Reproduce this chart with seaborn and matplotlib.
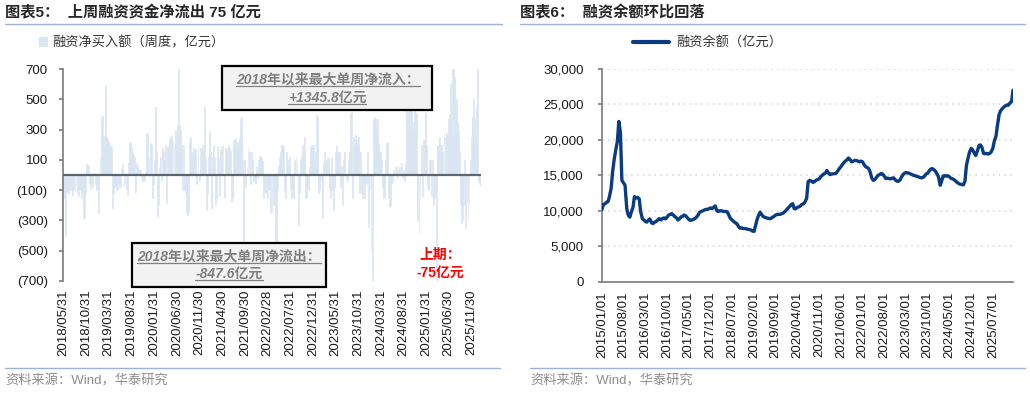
import matplotlib
matplotlib.use('Agg')
import matplotlib.pyplot as plt
import seaborn as sns
import pandas as pd
import numpy as np
from matplotlib.ticker import FuncFormatter, StrMethodFormatter
from matplotlib.lines import Line2D
from matplotlib.patches import Rectangle, Patch

# weekly net margin buying (100m yuan), first week 2018-05-31
net_buy = [
    -120, -150, -400, -110, -90, -120, -100, -80, -105, -130,
    -95, -110, -70, -120, -140, -100, -90, -150, -110, -290,
    -280, -120, 70, 75, 60, -60, -90, -50, -80, 10,
    15, -60, -100, -70, -250, 120, 380, 390, 250, 260,
    595, 250, 240, 220, 200, 190, 185, -220, -120, -80,
    -60, -100, -90, -50, -80, -70, 40, 75, -80, -60,
    -90, -130, 80, 215, 210, 180, 150, 130, 120, -110,
    80, 60, 40, 35, 30, -20, -40, -10, -40, 20,
    275, 270, 120, 210, 200, -150, -60, 100, 450, 150,
    -270, -200, 50, 120, -40, 180, 150, 100, 200, -182,
    187, 190, 230, 250, 260, 231, 200, 300, 250, 330,
    900, 330, 300, 200, -100, 200, -100, -120, -250, -264,
    -240, 220, 250, 150, 120, 180, 150, 170, -60, 200,
    -40, 180, 170, 200, 150, 450, 120, -230, -120, 120,
    290, 150, -220, 120, 200, 110, -200, -150, 190, 110,
    -140, 170, 190, 200, -150, 180, 150, 180, 200, 180,
    160, -170, -150, 230, 200, 240, 180, 220, 200, 240,
    370, 380, 100, -520, 100, -80, 50, 180, 150, -60,
    150, 100, -40, -30, -50, 60, -20, 100, 128, 120,
    110, 90, -150, -100, -120, -80, -150, -90, -100, -250,
    -250, -200, -120, -550, -480, -100, 60, 120, 150, 200,
    200, 180, -100, -150, 150, 100, 60, 120, -90, -150,
    -90, -150, 100, 120, 80, -330, -120, 100, 120, 200,
    160, 250, -150, -150, -80, -100, 50, 180, 200, 180,
    200, 60, 150, 394, 380, -120, -100, -40, -286, 80,
    150, 100, 80, 110, 110, -100, -150, 110, -100, -230,
    -80, 150, 200, 120, 150, 150, -80, 60, -200, 100,
    150, -30, -40, 100, 150, 407, 416, -150, 250, 200,
    261, 240, 200, 253, -120, 150, -120, -150, -50, -150,
    -50, -60, 150, -341, -100, -500, -760, 370, 383, 370,
    300, 370, 206, 150, 150, 100, -80, -150, -150, 100,
    209, 220, -150, -209, -204, -50, -40, 30, 60, 50,
    -20, 40, 50, 20, 80, -20, 30, -40, 80, 570,
    363, 660, 1345.8, 800, 450, 300, 350, 438, 407, 400,
    -297, -381, -140, 200, -140, 230, 200, 407, 200, -80,
    -100, 100, 100, -140, 100, -200, -150, -100, -847.6, 200,
    200, 250, 200, 200, 150, 275, 250, 275, 250, 372,
    400, 600, 372, 800, 700, 650, 500, 500, 350, 300,
    150, -200, -315, -300, -200, 100, -350, -180, -300, -200,
    100, 250, 380, 500, 374, 250, 450, 780, -40, -60, -75,
]
week_start = '2018-05-31'
left_ticks = ['2018/05/31', '2018/10/31', '2019/03/31', '2019/08/31', '2020/01/31',
              '2020/06/30', '2020/11/30', '2021/04/30', '2021/09/30', '2022/02/28',
              '2022/07/31', '2022/12/31', '2023/05/31', '2023/10/31', '2024/03/31',
              '2024/08/31', '2025/01/31', '2025/06/30', '2025/11/30']

# margin balance (100m yuan), 1st and 15th of each month from 2015-01-01
bal_2015 = [10200, 10900, 11000, 11200, 11300, 12000, 13200, 15500, 17300, 18500, 19800, 22600,
            21000, 14300, 13900, 13600, 10300, 9400, 9100, 9800, 10500, 12000, 11800, 11900]
bal_2016 = [11700, 9900, 8900, 8700, 8500, 8400, 8700, 8850, 8300, 8200, 8400, 8500,
            8700, 8900, 8700, 8900, 9000, 8850, 9100, 9400, 9500, 9600, 9400, 9200]
bal_2017 = [9000, 8700, 8900, 9150, 9200, 9400, 9300, 9050, 8800, 8650, 8700, 8800,
            8900, 9100, 9400, 9800, 9900, 10000, 10100, 10200, 10200, 10300, 10400, 10300]
bal_2018 = [10500, 10700, 10000, 9900, 10000, 10000, 9950, 9900, 9900, 9850, 9300, 8900,
            8700, 8500, 8300, 8200, 7800, 7550, 7600, 7500, 7500, 7450, 7400, 7350]
bal_2019 = [7300, 7150, 7100, 7900, 8700, 9300, 9800, 9500, 9200, 9100, 9000, 8950,
            8900, 8900, 9100, 9200, 9400, 9500, 9500, 9500, 9600, 9700, 9900, 10100]
bal_2020 = [10400, 10600, 10900, 11000, 10300, 10300, 10500, 10550, 10700, 10900, 11000, 11250,
            11800, 14100, 14300, 14200, 14000, 14100, 14300, 14400, 14500, 14800, 15000, 15200]
bal_2021 = [15300, 15700, 15300, 15100, 15200, 15200, 15250, 15300, 15600, 15900, 16200, 16500,
            16800, 17000, 17200, 17450, 17200, 16900, 17000, 17100, 17100, 17000, 16900, 17000]
bal_2022 = [16900, 16500, 16200, 16100, 15950, 15500, 14600, 14300, 14400, 14700, 15000, 15100,
            15250, 15200, 14900, 14550, 14600, 14550, 14500, 14600, 14650, 14400, 14200, 14150]
bal_2023 = [14300, 14700, 15100, 15300, 15400, 15350, 15300, 15200, 15100, 15000, 14950, 14850,
            14800, 14700, 14650, 14700, 14900, 15200, 15300, 15600, 15900, 15950, 15800, 15600]
bal_2024 = [15200, 14800, 13600, 14200, 14900, 14950, 14900, 14950, 14800, 14600, 14500, 14400,
            14200, 14000, 13850, 13750, 13700, 13650, 14200, 16400, 17500, 18300, 18800, 18600]
bal_2025 = [18100, 17800, 18500, 19200, 19300, 19000, 18100, 18050, 18100, 18000, 18100, 18300,
            18800, 19800, 20500, 22000, 23600, 24100, 24400, 24600, 24800, 24900, 24900, 25200]
bal_2026 = [25400, 27000]
balance = (bal_2015 + bal_2016 + bal_2017 + bal_2018 + bal_2019 + bal_2020 +
           bal_2021 + bal_2022 + bal_2023 + bal_2024 + bal_2025 + bal_2026)
right_ticks = ['2015/01/01', '2015/08/01', '2016/03/01', '2016/10/01', '2017/05/01',
               '2017/12/01', '2018/07/01', '2019/02/01', '2019/09/01', '2020/04/01',
               '2020/11/01', '2021/06/01', '2022/01/01', '2022/08/01', '2023/03/01',
               '2023/10/01', '2024/05/01', '2024/12/01', '2025/07/01']

bar_c = '#dae5f2'
navy = '#0b3b80'
gray_txt = '#808080'

sns.set_theme(style='white')
plt.rcParams['font.family'] = ['Liberation Sans', 'Noto Sans CJK SC']
plt.rcParams['axes.unicode_minus'] = False

W, H = 1030, 393
fig = plt.figure(figsize=(W / 100, H / 100), dpi=100)


def fx(px):
    return px / W


def fy(py):
    return 1 - py / H


ax1 = fig.add_axes([fx(63), fy(281), fx(481) - fx(63), fy(69) - fy(281)])
ax2 = fig.add_axes([fx(602), fy(281.7), fx(1013) - fx(602), fy(69) - fy(281.7)])

# left: weekly net buying bars
weeks = pd.date_range(week_start, periods=len(net_buy), freq='7D')
df1 = pd.DataFrame({'week': np.arange(len(net_buy)), 'net_buy': net_buy})
sns.barplot(data=df1, x='week', y='net_buy', native_scale=True, color=bar_c,
            saturation=1, width=0.9, linewidth=0.5, edgecolor=bar_c, errorbar=None, ax=ax1)
ax1.axhline(0, color='#5b6670', lw=1.6, zorder=3)
ax1.set_ylim(-700, 700)
ax1.set_yticks(range(-700, 701, 200))
ax1.yaxis.set_major_formatter(FuncFormatter(
    lambda v, p: f'({abs(v):.0f})' if v < 0 else f'{v:.0f}'))
tick_pos = (pd.to_datetime(left_ticks) - weeks[0]).days / 7
ax1.set_xticks(tick_pos)
ax1.set_xticklabels(left_ticks, rotation=90)
ax1.set_xlim(-0.5, len(net_buy) - 0.5)
ax1.set_xlabel('')
ax1.set_ylabel('')
for s in ['top', 'right', 'bottom']:
    ax1.spines[s].set_visible(False)
ax1.spines['left'].set_color('#7f7f7f')
ax1.tick_params(axis='y', length=3, color='#7f7f7f', labelsize=9.5, pad=8, left=True)
ax1.tick_params(axis='x', length=0, labelsize=9.5, pad=6)

# right: margin balance line
dates = pd.date_range('2015-01-01', periods=len(balance), freq='SMS')
df2 = pd.DataFrame({'date': dates, 'balance': balance})
sns.lineplot(data=df2, x='date', y='balance', color=navy, lw=2.4, ax=ax2, zorder=3)
ax2.set_ylim(0, 30000)
ax2.set_yticks(range(0, 30001, 5000))
ax2.yaxis.set_major_formatter(StrMethodFormatter('{x:,.0f}'))
ax2.set_xticks(pd.to_datetime(right_ticks))
ax2.set_xticklabels(right_ticks, rotation=90)
ax2.set_xlim(dates[0], dates[-1])
ax2.set_xlabel('')
ax2.set_ylabel('')
ax2.yaxis.grid(True, color='#d9d9d9', ls=(0, (1, 2.5)), lw=1.2)
ax2.xaxis.grid(False)
for s in ['top', 'right']:
    ax2.spines[s].set_visible(False)
for s in ['left', 'bottom']:
    ax2.spines[s].set_color('#808080')
ax2.tick_params(axis='y', length=3, color='#808080', labelsize=9.5, pad=10, left=True)
ax2.tick_params(axis='x', length=0, labelsize=9.5, pad=7)
for ax in (ax1, ax2):
    for lab in ax.get_xticklabels() + ax.get_yticklabels():
        lab.set_color('#1a1a1a')
    if ax.get_legend():
        ax.get_legend().remove()

# titles, rules, sources
fig.text(fx(5), fy(13), '图表5：  上周融资资金净流出 75 亿元', fontsize=11,
         fontweight='bold', va='center', ha='left')
fig.text(fx(520), fy(13), '图表6：  融资余额环比回落', fontsize=11,
         fontweight='bold', va='center', ha='left')
for x0, x1 in [(5, 502), (520, 1025)]:
    fig.add_artist(Line2D([fx(x0), fx(x1)], [fy(24), fy(24)], color='#9db3d6', lw=1))
for x0, x1 in [(5, 500), (530, 1025)]:
    fig.add_artist(Line2D([fx(x0), fx(x1)], [fy(368), fy(368)], color='#9db3d6', lw=1))
for x0 in (5, 530):
    fig.text(fx(x0), fy(381), '资料来源：Wind，华泰研究', fontsize=9.5,
             color='#8c8c8c', va='center', ha='left')

# legends
fig.legend(handles=[Patch(facecolor=bar_c, edgecolor='none')],
           labels=['融资净买入额（周度，亿元）'], loc='center left',
           bbox_to_anchor=(fx(39), fy(43)), frameon=False, fontsize=9.5,
           handlelength=0.7, handleheight=0.7, handletextpad=0.3,
           borderpad=0, borderaxespad=0, labelcolor='#333333')
fig.legend(handles=[Line2D([], [], color=navy, lw=3)],
           labels=['融资余额（亿元）'], loc='center left',
           bbox_to_anchor=(fx(633), fy(43)), frameon=False, fontsize=9.5,
           handlelength=2.7, handletextpad=0.6,
           borderpad=0, borderaxespad=0, labelcolor='#333333')

# annotation boxes
for (x0, y0, x1, y1) in [(222, 66, 432, 110), (132, 243, 326, 287)]:
    fig.add_artist(Rectangle((fx(x0), fy(y1)), fx(x1) - fx(x0), fy(y0) - fy(y1),
                             transform=fig.transFigure, facecolor='#f2f2f2',
                             edgecolor='black', lw=1.6, zorder=5))
note_texts = []
for (x, y, s) in [(328, 80, '2018年以来最大单周净流入：'), (327, 98, '+1345.8亿元'),
                  (229, 257, '2018年以来最大单周净流出：'), (229, 274, '-847.6亿元')]:
    t = fig.text(fx(x), fy(y), s, fontsize=10, fontweight='bold', fontstyle='italic',
                 color=gray_txt, ha='center', va='center', zorder=6)
    note_texts.append(t)
fig.text(fx(440), fy(264), '上期：\n-75亿元', fontsize=10, fontweight='bold',
         color='#ff0000', ha='center', va='center', linespacing=1.35, zorder=6)

fig.canvas.draw()
for t in note_texts:
    bb = t.get_window_extent()
    yl = (bb.y0 + 1.5) / H
    fig.add_artist(Line2D([bb.x0 / W, bb.x1 / W], [yl, yl], color=gray_txt, lw=0.9, zorder=6))

fig.savefig('out.png', dpi=100)
